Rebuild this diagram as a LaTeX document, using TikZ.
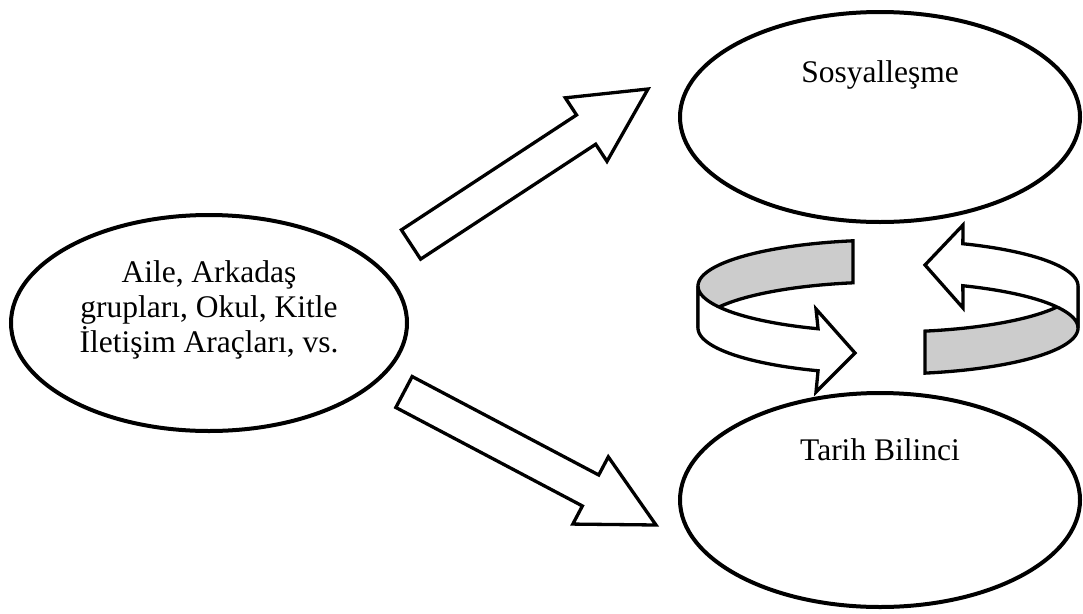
\documentclass[tikz,border=0pt]{standalone}
\usepackage{fontspec}
\setmainfont{Liberation Serif}
\usetikzlibrary{calc,shapes.geometric}
\definecolor{bandgray}{RGB}{204,204,204}

\begin{document}
\begin{tikzpicture}[x=1pt, y=-1pt]
\def\shaft{17.5pt}
\def\barb{38pt}
\def\headlen{74pt}
\def\cx{888}
\def\cy{286}
\def\rx{190}
\def\ry{46}
\def\bh{42}
%styles
\tikzstyle{bubble}=[ellipse, draw, line width=4pt, inner sep=0pt, minimum width=400pt, minimum height=210pt]
\tikzstyle{textLine}=[text=black, font=\fontsize{31.5}{35}\selectfont, align=center, inner sep=0pt]
\tikzstyle{blockarrow}=[draw, fill=white, line width=3.3pt]
\tikzstyle{band}=[draw, line width=3.3pt, fill=bandgray]
\tikzstyle{strip}=[draw, line width=3.3pt, fill=white]

\useasboundingbox (0,0) rectangle (1083,613);

%ellipses
\node[bubble, minimum width=396pt, minimum height=216pt] (aile) at (209,323) {};
\node[bubble] (sosyal) at (880,117) {};
\node[bubble, minimum height=214pt] (tarih) at (880,500) {};

\node[textLine] (taile) at ($(aile.center)+(0,-13)$) {Aile, Arkadaş\\grupları, Okul, Kitle\\İletişim Araçları, vs.};
\node[textLine, anchor=base] (tsosyal) at ($(sosyal.center)+(0,-35)$) {Sosyalleşme};
\node[textLine, anchor=base] (ttarih) at ($(tarih.center)+(0,-40)$) {Tarih Bilinci};

%block arrows
\coordinate (up0) at (411,244.5);
\coordinate (up1) at (648,89);
\coordinate (dn0) at (404,392);
\coordinate (dn1) at (656,525);
\foreach \a/\b in {up0/up1, dn0/dn1}{
  \coordinate (hb) at ($(\b)!\headlen!(\a)$);
  \draw[blockarrow] ($(\a)!\shaft!90:(\b)$) -- ($(hb)!\shaft!-90:(\a)$) -- ($(hb)!\barb!-90:(\a)$) -- (\b)
    -- ($(hb)!\barb!90:(\a)$) -- ($(hb)!\shaft!90:(\a)$) -- ($(\a)!\shaft!-90:(\b)$) -- cycle;
}

%circular arrows, inner side
\draw[band] plot[domain=100.6:180, samples=40] ({\cx+\rx*cos(\x)},{\cy-\ry*sin(\x)})
  -- plot[domain=180:100.6, samples=40] ({\cx+\rx*cos(\x)},{\cy+\bh-\ry*sin(\x)}) -- cycle;
\draw[band] plot[domain=-78.8:0, samples=40] ({\cx+\rx*cos(\x)},{\cy-\ry*sin(\x)})
  -- plot[domain=0:-78.8, samples=40] ({\cx+\rx*cos(\x)},{\cy+\bh-\ry*sin(\x)}) -- cycle;

%circular arrows, outer side
\draw[strip] plot[domain=180:248.4, samples=40] ({\cx+\rx*cos(\x)},{\cy-\ry*sin(\x)})
  -- (816,309) -- (855,353) -- (816,392)
  -- plot[domain=248.4:180, samples=40] ({\cx+\rx*cos(\x)},{\cy+\bh-\ry*sin(\x)}) -- cycle;
\draw[strip] plot[domain=0:66.8, samples=40] ({\cx+\rx*cos(\x)},{\cy-\ry*sin(\x)})
  -- (963,225) -- (925,265) -- (963,308)
  -- plot[domain=66.8:0, samples=40] ({\cx+\rx*cos(\x)},{\cy+\bh-\ry*sin(\x)}) -- cycle;

\end{tikzpicture}
\end{document}
